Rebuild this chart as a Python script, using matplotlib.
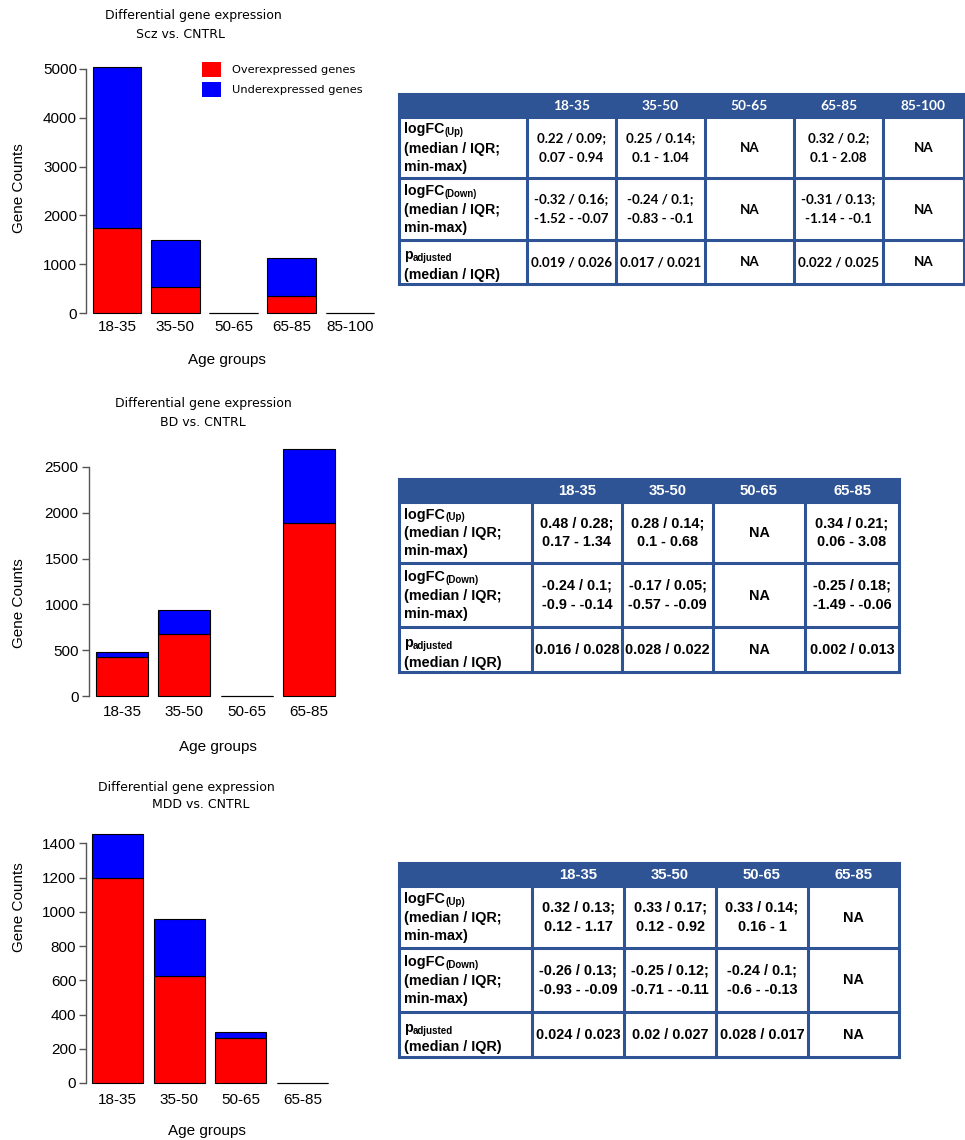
import matplotlib
matplotlib.use("Agg")
import matplotlib.pyplot as plt
from matplotlib.patches import Patch, Rectangle

# --- bar chart data (gene counts per age group) ---
scz_groups = ["18-35", "35-50", "50-65", "65-85", "85-100"]
scz_up = [1750, 525, 0, 340, 0]
scz_down = [3300, 965, 0, 790, 0]

bd_groups = ["18-35", "35-50", "50-65", "65-85"]
bd_up = [430, 680, 0, 1885]
bd_down = [50, 260, 0, 815]

mdd_groups = ["18-35", "35-50", "50-65", "65-85"]
mdd_up = [1195, 625, 265, 0]
mdd_down = [260, 330, 30, 0]

# --- summary tables ---
scz_logfc_up = ["0.22 / 0.09;\n0.07 - 0.94", "0.25 / 0.14;\n0.1 - 1.04", "NA",
                "0.32 / 0.2;\n0.1 - 2.08", "NA"]
scz_logfc_down = ["-0.32 / 0.16;\n-1.52 - -0.07", "-0.24 / 0.1;\n-0.83 - -0.1", "NA",
                  "-0.31 / 0.13;\n-1.14 - -0.1", "NA"]
scz_padj = ["0.019 / 0.026", "0.017 / 0.021", "NA", "0.022 / 0.025", "NA"]

bd_logfc_up = ["0.48 / 0.28;\n0.17 - 1.34", "0.28 / 0.14;\n0.1 - 0.68", "NA",
               "0.34 / 0.21;\n0.06 - 3.08"]
bd_logfc_down = ["-0.24 / 0.1;\n-0.9 - -0.14", "-0.17 / 0.05;\n-0.57 - -0.09", "NA",
                 "-0.25 / 0.18;\n-1.49 - -0.06"]
bd_padj = ["0.016 / 0.028", "0.028 / 0.022", "NA", "0.002 / 0.013"]

mdd_logfc_up = ["0.32 / 0.13;\n0.12 - 1.17", "0.33 / 0.17;\n0.12 - 0.92",
                "0.33 / 0.14;\n0.16 - 1", "NA"]
mdd_logfc_down = ["-0.26 / 0.13;\n-0.93 - -0.09", "-0.25 / 0.12;\n-0.71 - -0.11",
                  "-0.24 / 0.1;\n-0.6 - -0.13", "NA"]
mdd_padj = ["0.024 / 0.023", "0.02 / 0.027", "0.028 / 0.017", "NA"]

row_labels = [("logFC", "(Up)", ["(median / IQR;", "min-max)"]),
              ("logFC", "(Down)", ["(median / IQR;", "min-max)"]),
              ("p", "adjusted", ["(median / IQR)"])]

W, H = 965, 1140
fig = plt.figure(figsize=(W / 100, H / 100), dpi=100)

RED = "#FF0000"
BLUE = "#0000FF"
TBLUE = "#2F5496"
AXGREY = "#555555"
SANS = "Liberation Sans"
DV = "DejaVu Sans"
TITLE_SIZE = 9


def px_axes(left, top, right, bottom):
    return fig.add_axes([left / W, 1 - bottom / H, (right - left) / W, (bottom - top) / H])


def bar_panel(groups, up, down, spine_x, first_left, last_right, y0, yscale,
              ytop, yticks, ypad, xpad):
    n = len(groups)
    xs = (last_right - first_left) / (1.2 * n - 0.2)
    xmin = 0.2 - (first_left - spine_x) / xs
    xmax = 1.2 * n + 0.15
    right_px = first_left + (xmax - 0.2) * xs
    top_px = y0 - ytop * yscale
    ax = px_axes(spine_x, top_px, right_px, y0)
    pos = [0.7 + 1.2 * i for i in range(n)]
    b_up = ax.bar(pos, up, width=1, color=RED, edgecolor="black", linewidth=0.8, clip_on=False)
    b_dn = ax.bar(pos, down, width=1, bottom=up, color=BLUE, edgecolor="black",
                  linewidth=0.8, clip_on=False)
    ax.set_xlim(xmin, xmax)
    ax.set_ylim(0, ytop)
    ax.set_xticks(pos)
    ax.set_xticklabels(groups, fontsize=11, family=SANS)
    ax.set_yticks(yticks)
    ax.set_yticklabels([str(v) for v in yticks], fontsize=11, family=SANS)
    for s in ("top", "right", "bottom"):
        ax.spines[s].set_visible(False)
    ax.spines["left"].set_bounds(yticks[0], yticks[-1])
    ax.spines["left"].set_color(AXGREY)
    ax.spines["left"].set_linewidth(1)
    ax.tick_params(axis="y", direction="out", length=5, width=1, color=AXGREY, pad=ypad)
    ax.tick_params(axis="x", length=0, pad=xpad)
    ax.patch.set_visible(False)
    return ax, b_up, b_dn


def px_text(x, y, s, **kw):
    fig.text(x / W, 1 - y / H, s, **kw)


# --- Scz panel ---
ax1, h_up, h_dn = bar_panel(scz_groups, scz_up, scz_down, 86, 93, 374, 313, 244 / 5000,
                            5200, list(range(0, 5001, 1000)), 1.5, 5)
px_text(193, 16, "Differential gene expression", ha="center", va="center",
        fontsize=TITLE_SIZE, family=DV)
px_text(180, 34, "Scz vs. CNTRL", ha="center", va="center", fontsize=TITLE_SIZE, family=DV)
px_text(19, 188, "Gene Counts", ha="center", va="center", rotation=90, fontsize=11, family=SANS)
px_text(227, 360, "Age groups", ha="center", va="center", fontsize=11, family=SANS)
handles = [Patch(facecolor=RED, edgecolor="none"), Patch(facecolor=BLUE, edgecolor="none")]
ax1.legend(handles, ["Overexpressed genes", "Underexpressed genes"],
           loc="upper left", bbox_to_anchor=(202 / W, 1 - 62 / H), bbox_transform=fig.transFigure,
           frameon=False, prop={"family": DV, "size": 8.2}, handlelength=1.65, handleheight=1.65,
           handletextpad=0.95, labelspacing=0.45, borderpad=0, borderaxespad=0)

# --- BD panel ---
bar_panel(bd_groups, bd_up, bd_down, 89, 96, 335, 696, 229 / 2500,
          2800, list(range(0, 2501, 500)), 2.5, 6.5)
px_text(203, 404, "Differential gene expression", ha="center", va="center",
        fontsize=TITLE_SIZE, family=DV)
px_text(203, 422, "BD vs. CNTRL", ha="center", va="center", fontsize=TITLE_SIZE, family=DV)
px_text(19, 603, "Gene Counts", ha="center", va="center", rotation=90, fontsize=11, family=SANS)
px_text(218, 747, "Age groups", ha="center", va="center", fontsize=11, family=SANS)

# --- MDD panel ---
bar_panel(mdd_groups, mdd_up, mdd_down, 86, 92, 328, 1083, 239.7 / 1400,
          1500, list(range(0, 1401, 200)), 2, 7)
px_text(186, 788, "Differential gene expression", ha="center", va="center",
        fontsize=TITLE_SIZE, family=DV)
px_text(201, 805, "MDD vs. CNTRL", ha="center", va="center", fontsize=TITLE_SIZE, family=DV)
px_text(19, 907, "Gene Counts", ha="center", va="center", rotation=90, fontsize=11, family=SANS)
px_text(207, 1131, "Age groups", ha="center", va="center", fontsize=11, family=SANS)

# --- tables, drawn on a full-figure overlay in pixel units ---
tax = fig.add_axes([0, 0, 1, 1])
tax.set_xlim(0, W)
tax.set_ylim(H, 0)
tax.axis("off")


def draw_table(cols, rows, groups, cells, value_font, value_size, label_size):
    x0, x1 = cols[0], cols[-1]
    tax.add_patch(Rectangle((x0, rows[0]), x1 - x0, rows[1] - rows[0],
                            facecolor=TBLUE, edgecolor="none"))
    lw = 2.2
    for y in rows:
        tax.plot([x0, x1], [y, y], color=TBLUE, lw=lw, solid_capstyle="projecting")
    for x in cols:
        ytop = rows[0] if x in (x0, x1) else rows[1]
        tax.plot([x, x], [ytop, rows[-1]], color=TBLUE, lw=lw, solid_capstyle="projecting")
    hy = (rows[0] + rows[1]) / 2
    for j, g in enumerate(groups):
        cx = (cols[j + 1] + cols[j + 2]) / 2
        tax.text(cx, hy + 0.5, g, ha="center", va="center", color="white",
                 fontweight="bold", family=value_font, fontsize=value_size + 0.3)
    for r, (main, sub, rest) in enumerate(row_labels):
        mid = (rows[r + 1] + rows[r + 2]) / 2
        lx = cols[0] + 5
        if rest[0].endswith(";"):
            ys = [mid - 18, mid + 1, mid + 19]
        else:
            ys = [mid - 6.5, mid + 13]
        t = tax.text(lx, ys[0], main, ha="left", va="center", fontweight="bold",
                     family=SANS, fontsize=label_size)
        tax.annotate(sub, xy=(1, 0), xycoords=t, xytext=(0.3, -0.5), textcoords="offset points",
                     ha="left", va="bottom", fontweight="bold", family=SANS,
                     fontsize=label_size * 0.68)
        for line, y in zip(rest, ys[1:]):
            tax.text(lx, y, line, ha="left", va="center", fontweight="bold",
                     family=SANS, fontsize=label_size)
        for j, val in enumerate(cells[r]):
            cx = (cols[j + 1] + cols[j + 2]) / 2
            parts = val.split("\n")
            if len(parts) == 2:
                offs = [-9.5, 10]
            else:
                offs = [0.5]
            for p, o in zip(parts, offs):
                tax.text(cx, mid + o, p, ha="center", va="center", fontweight="bold",
                         family=value_font, fontsize=value_size)


draw_table([399, 527, 616, 705, 794, 883, 963.5], [94, 117, 178, 240, 284], scz_groups,
           [scz_logfc_up, scz_logfc_down, scz_padj], "Lato", 9.6, 10.2)
draw_table([399, 532, 622, 713, 805, 899], [479, 502, 563, 627, 672], bd_groups,
           [bd_logfc_up, bd_logfc_down, bd_padj], SANS, 10.4, 10.4)
draw_table([399, 532, 624, 716, 808, 899], [863, 886, 948, 1012, 1057], mdd_groups,
           [mdd_logfc_up, mdd_logfc_down, mdd_padj], SANS, 10.4, 10.4)

fig.savefig("out.png", dpi=100)
